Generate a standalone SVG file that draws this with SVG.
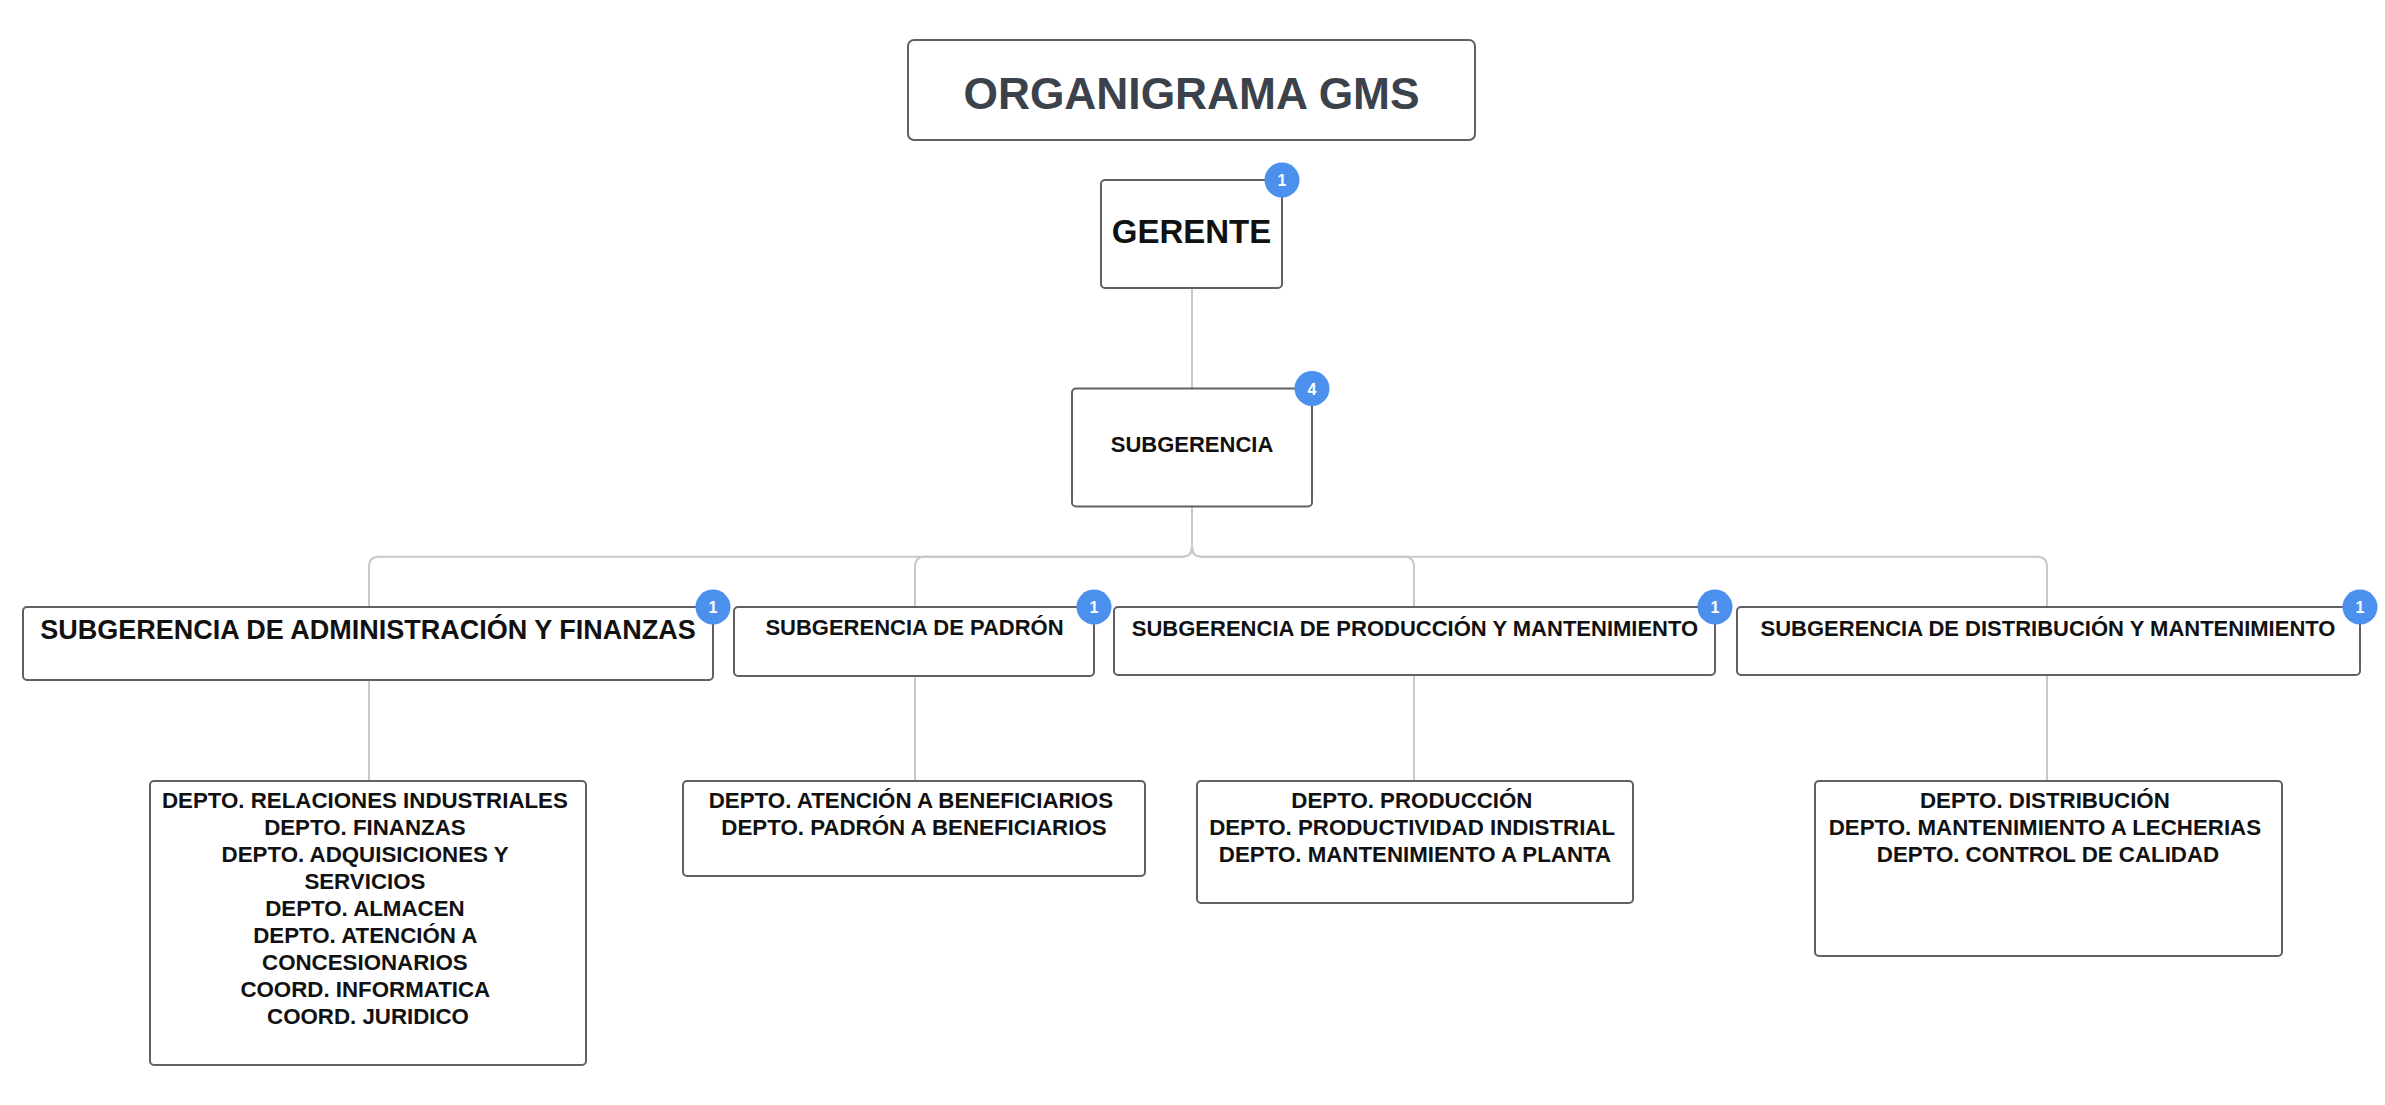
<svg xmlns="http://www.w3.org/2000/svg" width="2385" height="1105" viewBox="0 0 2385 1105">
<style>
.box{fill:#fff;stroke:#616161;stroke-width:2}
.lbl{font-family:"Liberation Sans",Arial,sans-serif;font-weight:bold;fill:#111;text-anchor:middle}
.b22{font-size:22px}
.d22{font-size:22.3px}
.badge circle{fill:#4a90ec}
.badge text{font-family:"Liberation Sans",Arial,sans-serif;font-weight:bold;font-size:16px;fill:#fff;text-anchor:middle}
.conn path{fill:none;stroke:#c9c9c9;stroke-width:2}
</style>
<rect width="2385" height="1105" fill="#fff"/>
<g id="connectors" class="conn">
<path d="M1192,288 V388.5"/>
<path d="M1192,506.5 V546.7 Q1192,556.7 1182,556.7 H379 Q369,556.7 369,566.7 V607"/>
<path d="M1192,506.5 V546.7 Q1192,556.7 1182,556.7 H925 Q915,556.7 915,566.7 V607"/>
<path d="M1192,506.5 V546.7 Q1192,556.7 1202,556.7 H1404 Q1414,556.7 1414,566.7 V607"/>
<path d="M1192,506.5 V546.7 Q1192,556.7 1202,556.7 H2037 Q2047,556.7 2047,566.7 V607"/>
<path d="M369,680 V781"/>
<path d="M915,676 V781"/>
<path d="M1414,675 V781"/>
<path d="M2047,675 V781"/>
</g>
<g id="title">
<rect class="box" x="908" y="40" width="567" height="100" rx="6"/>
<text class="lbl" x="1191.5" y="109" font-size="44.3" style="fill:#3b424b">ORGANIGRAMA GMS</text>
</g>
<g id="gerente">
<rect class="box" x="1101" y="180" width="181" height="108" rx="4"/>
<text class="lbl" x="1191.5" y="243" font-size="33">GERENTE</text>
<g class="badge"><circle cx="1282" cy="180" r="17.5"/><text x="1282" y="186">1</text></g>
</g>
<g id="subgerencia">
<rect class="box" x="1072" y="388.5" width="240" height="118" rx="4"/>
<text class="lbl b22" x="1192" y="451.5">SUBGERENCIA</text>
<g class="badge"><circle cx="1312" cy="388.5" r="17.5"/><text x="1312" y="394.5">4</text></g>
</g>
<g id="sub-admin">
<rect class="box" x="23" y="607" width="690" height="73" rx="4"/>
<text class="lbl" x="368" y="639" font-size="27">SUBGERENCIA DE ADMINISTRACIÓN Y FINANZAS</text>
<g class="badge"><circle cx="713" cy="607" r="17.5"/><text x="713" y="613">1</text></g>
</g>
<g id="sub-padron">
<rect class="box" x="734" y="607" width="360" height="69" rx="4"/>
<text class="lbl b22" x="914.5" y="635">SUBGERENCIA DE PADRÓN</text>
<g class="badge"><circle cx="1094" cy="607" r="17.5"/><text x="1094" y="613">1</text></g>
</g>
<g id="sub-produccion">
<rect class="box" x="1114" y="607" width="601" height="68" rx="4"/>
<text class="lbl b22" x="1415" y="636">SUBGERENCIA DE PRODUCCIÓN Y MANTENIMIENTO</text>
<g class="badge"><circle cx="1715" cy="607" r="17.5"/><text x="1715" y="613">1</text></g>
</g>
<g id="sub-distribucion">
<rect class="box" x="1737" y="607" width="623" height="68" rx="4"/>
<text class="lbl b22" x="2048" y="636">SUBGERENCIA DE DISTRIBUCIÓN Y MANTENIMIENTO</text>
<g class="badge"><circle cx="2360" cy="607" r="17.5"/><text x="2360" y="613">1</text></g>
</g>
<g id="deptos-admin">
<rect class="box" x="150" y="781" width="436" height="284" rx="4"/>
<text class="lbl d22" x="368">
<tspan x="368" y="808">DEPTO. RELACIONES INDUSTRIALES</tspan>
<tspan x="368" y="835">DEPTO. FINANZAS</tspan>
<tspan x="368" y="862">DEPTO. ADQUISICIONES Y</tspan>
<tspan x="368" y="889">SERVICIOS</tspan>
<tspan x="368" y="916">DEPTO. ALMACEN</tspan>
<tspan x="368" y="943">DEPTO. ATENCIÓN A</tspan>
<tspan x="368" y="970">CONCESIONARIOS</tspan>
<tspan x="368" y="997">COORD. INFORMATICA</tspan>
<tspan x="368" y="1024">COORD. JURIDICO</tspan>
</text>
</g>
<g id="deptos-padron">
<rect class="box" x="683" y="781" width="462" height="95" rx="4"/>
<text class="lbl d22" x="914">
<tspan x="914" y="808">DEPTO. ATENCIÓN A BENEFICIARIOS</tspan>
<tspan x="914" y="835">DEPTO. PADRÓN A BENEFICIARIOS</tspan>
</text>
</g>
<g id="deptos-produccion">
<rect class="box" x="1197" y="781" width="436" height="122" rx="4"/>
<text class="lbl d22" x="1415">
<tspan x="1415" y="808">DEPTO. PRODUCCIÓN</tspan>
<tspan x="1415" y="835">DEPTO. PRODUCTIVIDAD INDISTRIAL</tspan>
<tspan x="1415" y="862">DEPTO. MANTENIMIENTO A PLANTA</tspan>
</text>
</g>
<g id="deptos-distribucion">
<rect class="box" x="1815" y="781" width="467" height="175" rx="4"/>
<text class="lbl d22" x="2048">
<tspan x="2048" y="808">DEPTO. DISTRIBUCIÓN</tspan>
<tspan x="2048" y="835">DEPTO. MANTENIMIENTO A LECHERIAS</tspan>
<tspan x="2048" y="862">DEPTO. CONTROL DE CALIDAD</tspan>
</text>
</g>
</svg>
